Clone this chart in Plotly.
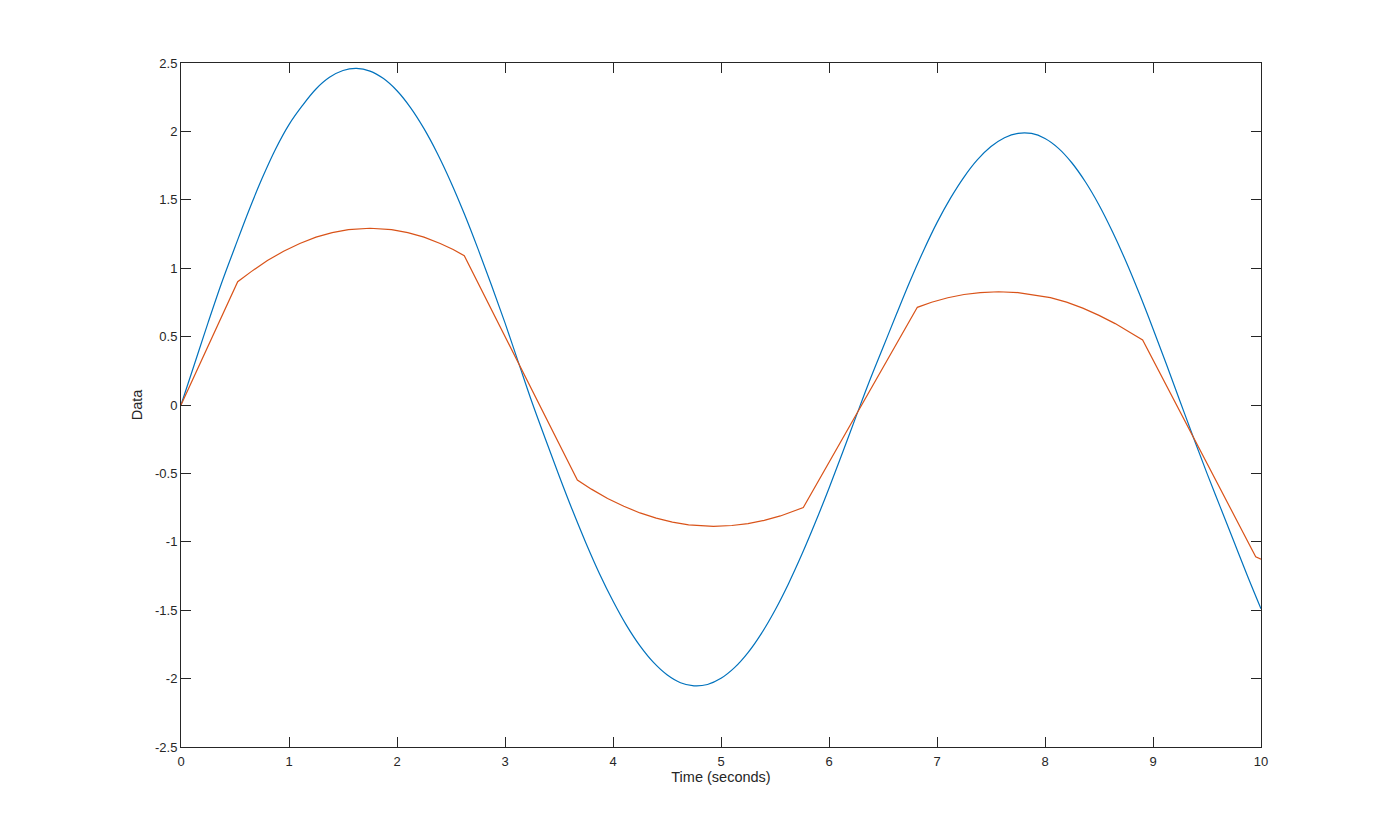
import plotly.graph_objects as go

# Blue series (original signal) every 0.125 s
t_blue = [0.0, 0.125, 0.25, 0.375, 0.5, 0.625, 0.75, 0.875, 1.0, 1.125, 1.25, 1.375,
          1.5, 1.625, 1.75, 1.875, 2.0, 2.125, 2.25, 2.375, 2.5, 2.625, 2.75, 2.875,
          3.0, 3.125, 3.25, 3.375, 3.5, 3.625, 3.75, 3.875, 4.0, 4.125, 4.25, 4.375,
          4.5, 4.625, 4.75, 4.875, 5.0, 5.125, 5.25, 5.375, 5.5, 5.625, 5.75, 5.875,
          6.0, 6.125, 6.25, 6.375, 6.5, 6.625, 6.75, 6.875, 7.0, 7.125, 7.25, 7.375,
          7.5, 7.625, 7.75, 7.875, 8.0, 8.125, 8.25, 8.375, 8.5, 8.625, 8.75, 8.875,
          9.0, 9.125, 9.25, 9.375, 9.5, 9.625, 9.75, 9.875, 10.0]
v_blue = [0.0, 0.30, 0.60, 0.89, 1.155, 1.415, 1.655, 1.87, 2.05, 2.19, 2.31, 2.395,
          2.445, 2.46, 2.441, 2.386, 2.297, 2.174, 2.02, 1.837, 1.627, 1.394, 1.141, 0.875,
          0.60, 0.31, 0.02, -0.25, -0.515, -0.77, -1.01, -1.233, -1.433, -1.611, -1.761, -1.882,
          -1.972, -2.030, -2.053, -2.043, -1.998, -1.920, -1.810, -1.669, -1.500, -1.306, -1.090, -0.856,
          -0.608, -0.349, -0.085, 0.175, 0.42, 0.665, 0.905, 1.128, 1.333, 1.512, 1.666, 1.793,
          1.889, 1.954, 1.986, 1.985, 1.948, 1.876, 1.769, 1.630, 1.462, 1.266, 1.049, 0.811,
          0.558, 0.296, 0.028, -0.24, -0.50, -0.75, -1.00, -1.25, -1.49]

# Orange series (processed signal)
t_orange = [0.0, 0.525, 0.65, 0.8, 0.95, 1.1, 1.25, 1.4, 1.55, 1.75, 1.95, 2.1, 2.25,
            2.4, 2.52, 2.623,
            3.67, 3.8, 3.95, 4.1, 4.25, 4.4, 4.55, 4.7, 4.93, 5.1, 5.25, 5.4, 5.55, 5.762,
            6.818, 6.95, 7.1, 7.25, 7.4, 7.57, 7.75, 7.9, 8.05, 8.2, 8.35, 8.5, 8.65,
            8.8, 8.904,
            9.951, 10.0]
v_orange = [0.0, 0.901, 0.975, 1.056, 1.124, 1.181, 1.227, 1.260, 1.282, 1.292, 1.282,
            1.260, 1.227, 1.181, 1.137, 1.091,
            -0.548, -0.615, -0.683, -0.740, -0.789, -0.827, -0.856, -0.876, -0.887,
            -0.881, -0.867, -0.843, -0.811, -0.750,
            0.714, 0.751, 0.784, 0.808, 0.822, 0.828, 0.822, 0.806, 0.785, 0.752, 0.708,
            0.655, 0.595, 0.525, 0.475,
            -1.109, -1.127]

x_ticks = [0, 1, 2, 3, 4, 5, 6, 7, 8, 9, 10]
y_ticks = [2.5, 2, 1.5, 1, 0.5, 0, -0.5, -1, -1.5, -2, -2.5]
y_ticktext = ["2.5", "2", "1.5", "1", "0.5", "0", "-0.5", "-1", "-1.5", "-2", "-2.5"]

FONT = "Liberation Sans, Arial, Helvetica, sans-serif"
INK = "#262626"

fig = go.Figure()
fig.add_trace(go.Scatter(x=t_blue, y=v_blue, mode="lines",
                         line=dict(color="#0072BD", width=1.2, shape="spline", smoothing=1.0),
                         showlegend=False))
fig.add_trace(go.Scatter(x=t_orange, y=v_orange, mode="lines",
                         line=dict(color="#D95319", width=1.2),
                         showlegend=False))

axis_common = dict(showgrid=False, zeroline=False, showline=True, linecolor=INK,
                   linewidth=1, mirror="allticks", ticks="inside", ticklen=10,
                   tickcolor=INK, tickwidth=1,
                   tickfont=dict(family=FONT, size=13, color=INK))

fig.update_layout(
    width=1394, height=840,
    paper_bgcolor="white", plot_bgcolor="white",
    margin=dict(l=173, r=141, t=55, b=101),
    font=dict(family=FONT, size=13, color=INK),
    xaxis=dict(range=[0, 10], tickvals=x_ticks, ticklabelstandoff=2,
               title=dict(text="Time (seconds)", standoff=3,
                          font=dict(family=FONT, size=14.5, color=INK)),
               **axis_common),
    yaxis=dict(range=[-2.5, 2.5], tickvals=y_ticks, ticktext=y_ticktext,
               title=dict(text="Data", standoff=8,
                          font=dict(family=FONT, size=14.5, color=INK)),
               **axis_common),
)

fig.write_html("out.html")
